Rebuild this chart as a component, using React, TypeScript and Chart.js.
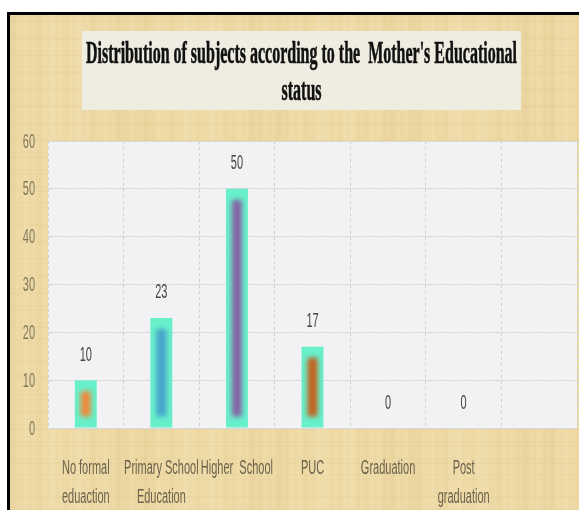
import React, { useEffect, useRef } from "react";
import { Chart, registerables } from "chart.js";

Chart.register(...registerables);

const categories: (string | string[])[] = [
  ["No formal", "eduaction"],
  ["Primary School", "Education"],
  "Higher  School",
  "PUC",
  "Graduation",
  ["Post", "graduation"],
  "",
];
const values: (number | null)[] = [10, 23, 50, 17, 0, 0, null];
const coreColors = ["#f2883a", "#45a3c9", "#8563a6", "#c4601e", "#888888", "#888888", "#888888"];
const titleLines = ["Distribution of subjects according to the  Mother's Educational", "status"];
const yMin = 0;
const yMax = 60;
const yStep = 10;
const yTickValues = [0, 10, 20, 30, 40, 50, 60];

const NARROW = '"Liberation Sans", Arial, sans-serif';
const SX = 0.55;

function narrowText(ctx: any, text: string, x: number, y: number, align: string) {
  ctx.save();
  ctx.translate(x, y);
  ctx.scale(SX, 1);
  ctx.textAlign = align;
  ctx.fillText(text, 0, 0);
  ctx.restore();
}

const decorPlugin = {
  id: "decor",
  beforeDraw(chart: any) {
    const { ctx, width, height, chartArea } = chart;
    ctx.save();
    // parchment background
    ctx.fillStyle = "#eedaa6";
    ctx.fillRect(0, 0, width, height);
    for (let x = 0; x < width; x++) {
      const v =
        Math.sin(x * 0.71) * 0.5 +
        Math.sin(x * 0.233 + 1.3) * 0.7 +
        Math.sin(x * 1.93 + 0.4) * 0.4 +
        Math.sin(x * 0.047 + 2.1) * 0.6;
      if (v > 0) {
        ctx.fillStyle = `rgba(200,165,95,${Math.min(0.16, v * 0.07)})`;
      } else {
        ctx.fillStyle = `rgba(255,245,215,${Math.min(0.25, -v * 0.1)})`;
      }
      ctx.fillRect(x, 0, 1, height);
    }
    for (let y = 0; y < height; y += 1) {
      const h = Math.sin(y * 0.37) + Math.sin(y * 1.11 + 0.7) * 0.6;
      if (h > 0.9) {
        ctx.fillStyle = "rgba(190,150,80,0.05)";
        ctx.fillRect(0, y, width, 1);
      }
    }
    // title box
    ctx.fillStyle = "#efede2";
    ctx.fillRect(72, 16, 439, 79);
    ctx.fillStyle = "#111111";
    ctx.strokeStyle = "#111111";
    ctx.lineWidth = 0.6;
    ctx.font = 'bold 31px "Liberation Serif", "DejaVu Serif", serif';
    ctx.textAlign = "center";
    ctx.textBaseline = "alphabetic";
    const w0 = ctx.measureText(titleLines[0]).width;
    const sx = 431 / w0;
    const cx = 291.5;
    titleLines.forEach((t, i) => {
      ctx.save();
      ctx.translate(cx, i === 0 ? 48 : 85);
      ctx.scale(sx, 1);
      ctx.fillText(t, 0, 0);
      ctx.strokeText(t, 0, 0);
      ctx.restore();
    });
    // plot area background
    const { left, top, right, bottom } = chartArea;
    ctx.fillStyle = "#f5f5f7";
    ctx.fillRect(left, top, right - left, bottom - top);
    ctx.beginPath();
    ctx.rect(left, top, right - left, bottom - top);
    ctx.clip();
    ctx.strokeStyle = "rgba(205,205,210,0.2)";
    ctx.lineWidth = 1;
    for (let d = -(bottom - top); d < right - left; d += 3) {
      ctx.beginPath();
      ctx.moveTo(left + d, top);
      ctx.lineTo(left + d + (bottom - top), bottom);
      ctx.stroke();
    }
    ctx.restore();
  },
  afterDatasetsDraw(chart: any) {
    const { ctx } = chart;
    const meta = chart.getDatasetMeta(0);
    ctx.save();
    meta.data.forEach((bar: any, i: number) => {
      const v = values[i];
      if (v === null || v === undefined) return;
      const { x, y, base, width } = bar.getProps(["x", "y", "base", "width"], true);
      if (v > 0) {
        ctx.save();
        ctx.filter = "blur(2.5px)";
        ctx.fillStyle = coreColors[i];
        const inset = 11;
        const h = base - y - 2 * inset;
        ctx.fillRect(x - width * 0.23, y + inset, width * 0.46, Math.max(h, 4));
        ctx.restore();
      }
      ctx.fillStyle = "#474747";
      ctx.font = `20px ${NARROW}`;
      ctx.textBaseline = "middle";
      narrowText(ctx, String(v), x, y - 25, "center");
    });
    ctx.restore();
  },
  afterDraw(chart: any) {
    const { ctx, chartArea } = chart;
    const xs = chart.scales.x;
    const ys = chart.scales.y;
    ctx.save();
    ctx.textBaseline = "middle";
    // x category labels
    ctx.fillStyle = "#6a624c";
    ctx.font = `20px ${NARROW}`;
    categories.forEach((lab, i) => {
      const lines = Array.isArray(lab) ? lab : [lab];
      const x = xs.getPixelForTick(i);
      lines.forEach((ln, j) => {
        narrowText(ctx, ln, x, chartArea.bottom + 40 + j * 29, "center");
      });
    });
    // y tick labels
    ctx.fillStyle = "#837a5e";
    ctx.font = `20px ${NARROW}`;
    yTickValues.forEach((v) => {
      const y = ys.getPixelForValue(v);
      narrowText(ctx, String(v), chartArea.left - 13, y + 1, "right");
    });
    ctx.restore();
  },
};

export default function App() {
  const ref = useRef<HTMLCanvasElement | null>(null);
  useEffect(() => {
    if (!ref.current) return;
    const chart = new Chart(ref.current, {
      type: "bar",
      data: {
        labels: categories,
        datasets: [
          {
            data: values,
            backgroundColor: "#68f0cb",
            borderWidth: 0,
            barPercentage: 0.29,
            categoryPercentage: 1,
          },
        ],
      },
      options: {
        responsive: false,
        animation: false,
        layout: { padding: { top: 126, left: 0, right: 2, bottom: 0 } },
        plugins: {
          legend: { display: false },
          title: { display: false },
          tooltip: { enabled: false },
        },
        scales: {
          x: {
            grid: {
              display: true,
              offset: true,
              color: "#d2d2d2",
              lineWidth: 1,
              drawTicks: false,
            },
            border: { display: false, dash: [3, 3] },
            ticks: { display: false, autoSkip: false },
            afterFit(scale: any) {
              scale.height = 82;
            },
          },
          y: {
            min: yMin,
            max: yMax,
            grid: { color: "#d9d9d9", lineWidth: 1, drawTicks: false },
            border: { display: false },
            ticks: { display: false, stepSize: yStep },
            afterFit(scale: any) {
              scale.width = 38;
            },
          },
        },
      },
      plugins: [decorPlugin],
    });
    return () => chart.destroy();
  }, []);
  return (
    <div
      style={{
        position: "fixed",
        left: 7,
        top: 12,
        width: 572,
        height: 498,
        borderTop: "3px solid #000",
        borderLeft: "3px solid #000",
        background: "#eedaa6",
      }}
    >
      <canvas ref={ref} width={569} height={495} style={{ display: "block" }} />
    </div>
  );
}
